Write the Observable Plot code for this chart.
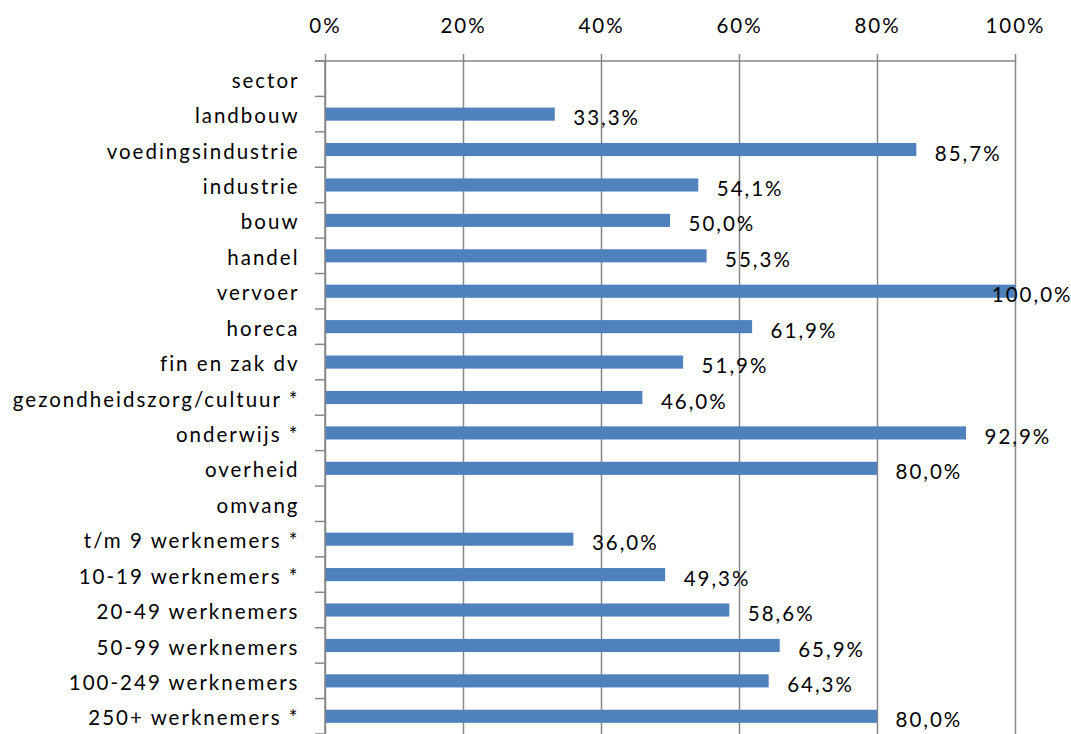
<!DOCTYPE html>
<html>
<head>
<meta charset="utf-8">
<script src="https://cdn.jsdelivr.net/npm/d3@7"></script>
<script src="https://cdn.jsdelivr.net/npm/@observablehq/plot@0.6"></script>
<style>
  html, body { margin: 0; padding: 0; background: #fff; overflow: hidden; }
  #chart svg { display: block; }
  #chart svg text { letter-spacing: 2px; }
</style>
</head>
<body>
<div id="chart"></div>
<script>
const categories = [
  "sector", "landbouw", "voedingsindustrie", "industrie", "bouw", "handel",
  "vervoer", "horeca", "fin en zak dv", "gezondheidszorg/cultuur *",
  "onderwijs *", "overheid", "omvang", "t/m 9 werknemers *",
  "10-19 werknemers *", "20-49 werknemers", "50-99 werknemers",
  "100-249 werknemers", "250+ werknemers *"
];
const values = [
  null, 33.3, 85.7, 54.1, 50.0, 55.3, 100.0, 61.9, 51.9, 46.0, 92.9, 80.0,
  null, 36.0, 49.3, 58.6, 65.9, 64.3, 80.0
];
const xTicks = [0, 20, 40, 60, 80, 100];

const data = categories.map((c, i) => ({category: c, value: values[i]}));
const withValue = data.filter(d => d.value != null);
const fmt = v => v.toFixed(1).replace(".", ",") + "%";
const axisColor = "#878787";
const padInner = 0.63;

// axis lines + boundary ticks between categories, built from the scales
function frameMark(index, scales) {
  const g = d3.create("svg:g");
  const ys = scales.y;
  const xs = scales.x;
  const step = ys(categories[1]) - ys(categories[0]);
  const start = c => ys(c) - padInner * step / 2;
  const x0 = xs(0), x1 = xs(100);
  const bounds = categories.map(start);
  bounds.push(start(categories[categories.length - 1]) + step);
  g.append("line")
    .attr("x1", x0 - 10).attr("x2", x1)
    .attr("y1", bounds[0]).attr("y2", bounds[0])
    .attr("stroke", axisColor).attr("stroke-width", 1.5);
  g.append("line")
    .attr("x1", x0).attr("x2", x0)
    .attr("y1", bounds[0]).attr("y2", bounds[bounds.length - 1])
    .attr("stroke", axisColor).attr("stroke-width", 1.5);
  g.selectAll("line.t").data(bounds).join("line")
    .attr("class", "t")
    .attr("x1", x0 - 10).attr("x2", x0)
    .attr("y1", d => d).attr("y2", d => d)
    .attr("stroke", axisColor).attr("stroke-width", 1.5);
  return g.node();
}

const chart = Plot.plot({
  width: 1071,
  height: 734,
  marginLeft: 325,
  marginRight: 56,
  marginTop: 61,
  marginBottom: 0,
  style: {fontFamily: "Lato, sans-serif", color: "#000", background: "#fff"},
  x: {domain: [0, 100], axis: null},
  y: {domain: categories, axis: null, round: false, paddingInner: padInner, paddingOuter: padInner / 2},
  marks: [
    Plot.gridX(xTicks, {stroke: axisColor, strokeOpacity: 1, strokeWidth: 1.5}),
    Plot.axisX(xTicks, {
      anchor: "top", tickSize: 8, tickPadding: 21, fontSize: 20.5,
      stroke: axisColor, strokeWidth: 1.5, fill: "#000", label: null,
      tickFormat: d => d + "%"
    }),
    Plot.axisY({
      anchor: "left", tickSize: 0, tickPadding: 26, fontSize: 20.5,
      fill: "#000", label: null, dy: 2
    }),
    Plot.barX(withValue, {x: "value", y: "category", fill: "#4f81bd"}),
    frameMark,
    Plot.text(withValue.filter(d => d.value < 100), {
      x: "value", y: "category", text: d => fmt(d.value),
      textAnchor: "start", dx: 18, dy: 4, fontSize: 20.5, fill: "#000"
    }),
    Plot.text(withValue.filter(d => d.value >= 100), {
      x: "value", y: "category", text: d => fmt(d.value),
      textAnchor: "end", dx: 57, dy: 4, fontSize: 20.5, fill: "#000"
    })
  ]
});

document.getElementById("chart").appendChild(chart);
</script>
</body>
</html>
